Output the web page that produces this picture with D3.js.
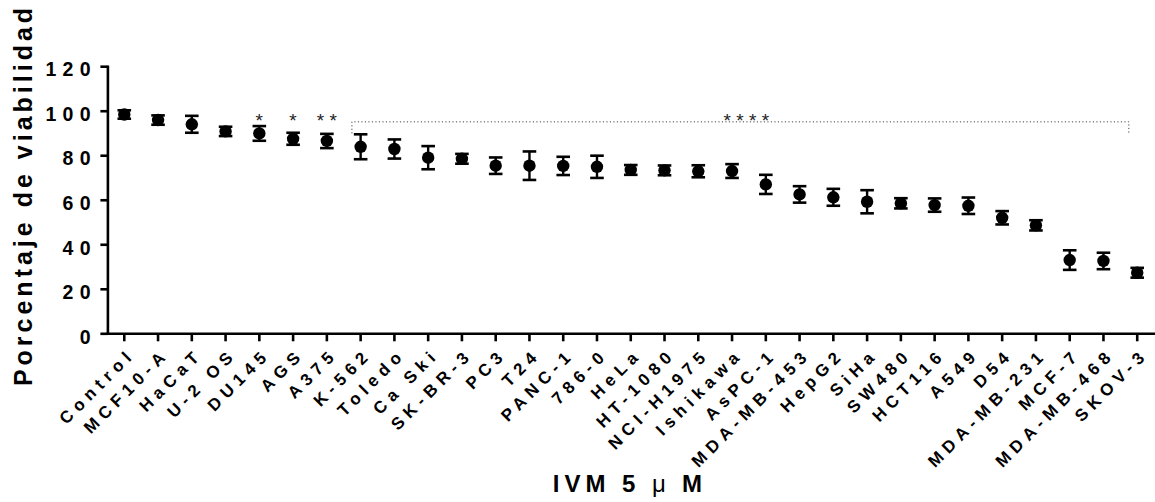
<!DOCTYPE html>
<html>
<head>
<meta charset="utf-8">
<script src="https://cdn.jsdelivr.net/npm/d3@7"></script>
<style>
  body { margin: 0; background: #fff; }
  svg { display: block; font-family: Arial, "Liberation Sans", sans-serif; }
</style>
</head>
<body>
<script>
// données
const categories = ["Control", "MCF10-A", "HaCaT", "U-2 OS", "DU145", "AGS", "A375", "K-562", "Toledo", "Ca Ski",
  "SK-BR-3", "PC3", "T24", "PANC-1", "786-0", "HeLa", "HT-1080", "NCI-H1975", "Ishikawa", "AsPC-1",
  "MDA-MB-453", "HepG2", "SiHa", "SW480", "HCT116", "A549", "D54", "MDA-MB-231", "MCF-7", "MDA-MB-468", "SKOV-3"]
const means = [98.3, 95.8, 93.9, 90.7, 89.8, 87.4, 86.4, 83.8, 82.8, 78.9,
  78.4, 75.3, 75.3, 75.2, 74.8, 73.4, 73.2, 72.8, 72.9, 66.9,
  62.4, 61.1, 59.1, 58.4, 57.6, 57.3, 51.9, 48.5, 32.9, 32.5, 27.2]
const errors = [1.9, 2.1, 3.8, 2.1, 3.3, 2.7, 3.2, 5.6, 4.3, 5.2,
  2.2, 3.7, 6.4, 4.1, 5.0, 2.2, 2.2, 2.7, 3.1, 4.3,
  3.7, 3.8, 5.2, 2.3, 3.0, 3.7, 3.0, 2.3, 4.4, 3.7, 2.2]
const yTicks = [0, 20, 40, 60, 80, 100, 120]

// significance marks
const sigCats = ["DU145", "AGS", "A375"]
const sigLabels = ["*", "*", "**"]
const bracket = { from: "K-562", to: "SKOV-3", top: 95, bottom: 89.8, label: "****" }

const width = 1155, height = 502

const svg = d3.select("body").append("svg")
  .attr("width", width)
  .attr("height", height)

const x = d3.scaleBand()
  .domain(categories)
  .range([107.4, 1154.1])
  .padding(0)

const y = d3.scaleLinear()
  .domain([0, 120])
  .range([333.3, 66.2])

const cx = d => x(d) + x.bandwidth() / 2

// axe Y
const yAxis = svg.append("g")
  .attr("transform", "translate(107.4,0)")
  .call(d3.axisLeft(y).tickValues(yTicks).tickSize(7).tickSizeOuter(0).tickPadding(0))
yAxis.select(".domain").attr("stroke-width", 2.6).attr("stroke-linecap", "square")
yAxis.selectAll(".tick line").attr("stroke-width", 2.6)
yAxis.selectAll(".tick text")
  .attr("x", -10.5)
  .attr("dy", "0.5em")
  .attr("font-size", 19.5)
  .attr("font-weight", "bold")
  .attr("letter-spacing", 6.3)
  .attr("fill", "#000")

// axe X
const xAxis = svg.append("g")
  .attr("transform", "translate(0,333.3)")
  .call(d3.axisBottom(x).tickSize(8).tickSizeOuter(0))
xAxis.select(".domain").attr("stroke-width", 2.6).attr("stroke-linecap", "square")
xAxis.selectAll(".tick line").attr("stroke-width", 2.6)
xAxis.selectAll(".tick text")
  .attr("y", 0)
  .attr("dy", 0)
  .attr("text-anchor", "end")
  .attr("transform", "translate(12,22) rotate(-45)")
  .attr("font-size", 17)
  .attr("font-weight", "bold")
  .attr("letter-spacing", 5.5)
  .attr("fill", "#000")

// barres d'erreur
const bars = svg.append("g")
bars.selectAll("line.err")
  .data(categories)
  .enter()
  .append("line")
  .attr("x1", d => cx(d))
  .attr("x2", d => cx(d))
  .attr("y1", (d, i) => y(means[i] + errors[i]))
  .attr("y2", (d, i) => y(means[i] - errors[i]))
  .attr("stroke", "#000")
  .attr("stroke-width", 2.4)

const caps = []
categories.forEach((d, i) => {
  caps.push({ c: d, v: means[i] + errors[i] })
  caps.push({ c: d, v: means[i] - errors[i] })
})
bars.selectAll("line.cap")
  .data(caps)
  .enter()
  .append("line")
  .attr("x1", d => cx(d.c) - 6.8)
  .attr("x2", d => cx(d.c) + 6.8)
  .attr("y1", d => y(d.v))
  .attr("y2", d => y(d.v))
  .attr("stroke", "#000")
  .attr("stroke-width", 2.6)

// points
svg.append("g").selectAll("circle")
  .data(categories)
  .enter()
  .append("circle")
  .attr("cx", d => cx(d))
  .attr("cy", (d, i) => y(means[i]))
  .attr("r", 6.2)
  .attr("fill", "#000")

// étoiles
svg.append("g").selectAll("text")
  .data(sigCats)
  .enter()
  .append("text")
  .text((d, i) => sigLabels[i])
  .attr("x", d => cx(d))
  .attr("dx", 2.6)
  .attr("y", 127)
  .attr("text-anchor", "middle")
  .attr("font-size", 19)
  .attr("letter-spacing", 5.3)
  .attr("fill", "#222")

// crochet pointillé
const bx1 = cx(bracket.from) - 8.7
const bx2 = cx(bracket.to) - 8.4
svg.append("path")
  .attr("d", `M${bx1},${y(bracket.bottom)}V${y(bracket.top)}H${bx2}V${y(bracket.bottom)}`)
  .attr("fill", "none")
  .attr("stroke", "#444")
  .attr("stroke-width", 1)
  .attr("stroke-dasharray", "1.2,2.3")

svg.append("text")
  .text(bracket.label)
  .attr("x", (bx1 + bx2) / 2 + 6)
  .attr("dx", 2.6)
  .attr("y", 127)
  .attr("text-anchor", "middle")
  .attr("font-size", 19)
  .attr("letter-spacing", 5.3)
  .attr("fill", "#222")

// titres
svg.append("text")
  .attr("transform", "translate(32,195) rotate(-90)")
  .attr("text-anchor", "middle")
  .attr("font-size", 25)
  .attr("font-weight", "bold")
  .attr("letter-spacing", 4)
  .text("Porcentaje de viabilidad")

const xt = svg.append("text")
  .attr("x", (107.4 + 1154.1) / 2 - 78)
  .attr("y", 492)
  .attr("font-size", 24)
  .attr("font-weight", "bold")
  .attr("letter-spacing", 5)
xt.append("tspan").text("IVM 5 ")
xt.append("tspan").attr("font-weight", "normal").text("μ")
xt.append("tspan").attr("dx", 11).text("M")
</script>
</body>
</html>
